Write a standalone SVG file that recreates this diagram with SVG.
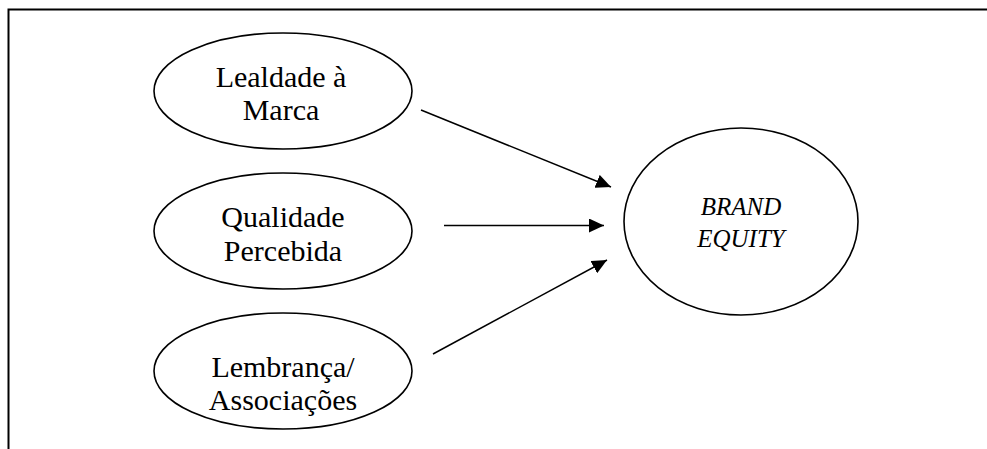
<svg xmlns="http://www.w3.org/2000/svg" width="987" height="449" viewBox="0 0 987 449">
<style>
.shape{fill:#fff;stroke:#000;stroke-width:1.6}
.lbl{font-family:"Liberation Serif","Times New Roman",serif;font-size:30px;fill:#000;text-anchor:middle}
.it{font-style:italic;font-size:25px}
.conn{stroke:#000;stroke-width:1.5;fill:none}
</style>
<defs>
<marker id="ah" markerUnits="userSpaceOnUse" markerWidth="16" markerHeight="14" refX="15" refY="7" orient="auto">
<path d="M0,0 L15,7 L0,14 z" fill="#000"/>
</marker>
</defs>
<rect width="987" height="449" fill="#fff"/>
<path d="M8.5,449 V9.5 H987" fill="none" stroke="#000" stroke-width="2"/>
<g id="n1">
<ellipse class="shape" cx="283" cy="91" rx="129" ry="58"/>
<text class="lbl" x="281" y="87">Lealdade à</text>
<text class="lbl" x="281" y="120">Marca</text>
</g>
<g id="n2">
<ellipse class="shape" cx="283" cy="231" rx="129" ry="58"/>
<text class="lbl" x="283" y="227">Qualidade</text>
<text class="lbl" x="283" y="261">Percebida</text>
</g>
<g id="n3">
<ellipse class="shape" cx="283" cy="371" rx="129" ry="58"/>
<text class="lbl" x="283" y="377">Lembrança/</text>
<text class="lbl" x="283" y="410">Associações</text>
</g>
<g id="n4">
<ellipse class="shape" cx="741" cy="221.5" rx="117" ry="93.5"/>
<text class="lbl it" x="741" y="215">BRAND</text>
<text class="lbl it" x="741" y="247">EQUITY</text>
</g>
<g id="connectors">
<line class="conn" x1="421" y1="110" x2="611" y2="187" marker-end="url(#ah)"/>
<line class="conn" x1="444" y1="225.5" x2="604" y2="225.5" marker-end="url(#ah)"/>
<line class="conn" x1="433" y1="354" x2="607" y2="260" marker-end="url(#ah)"/>
</g>
</svg>
